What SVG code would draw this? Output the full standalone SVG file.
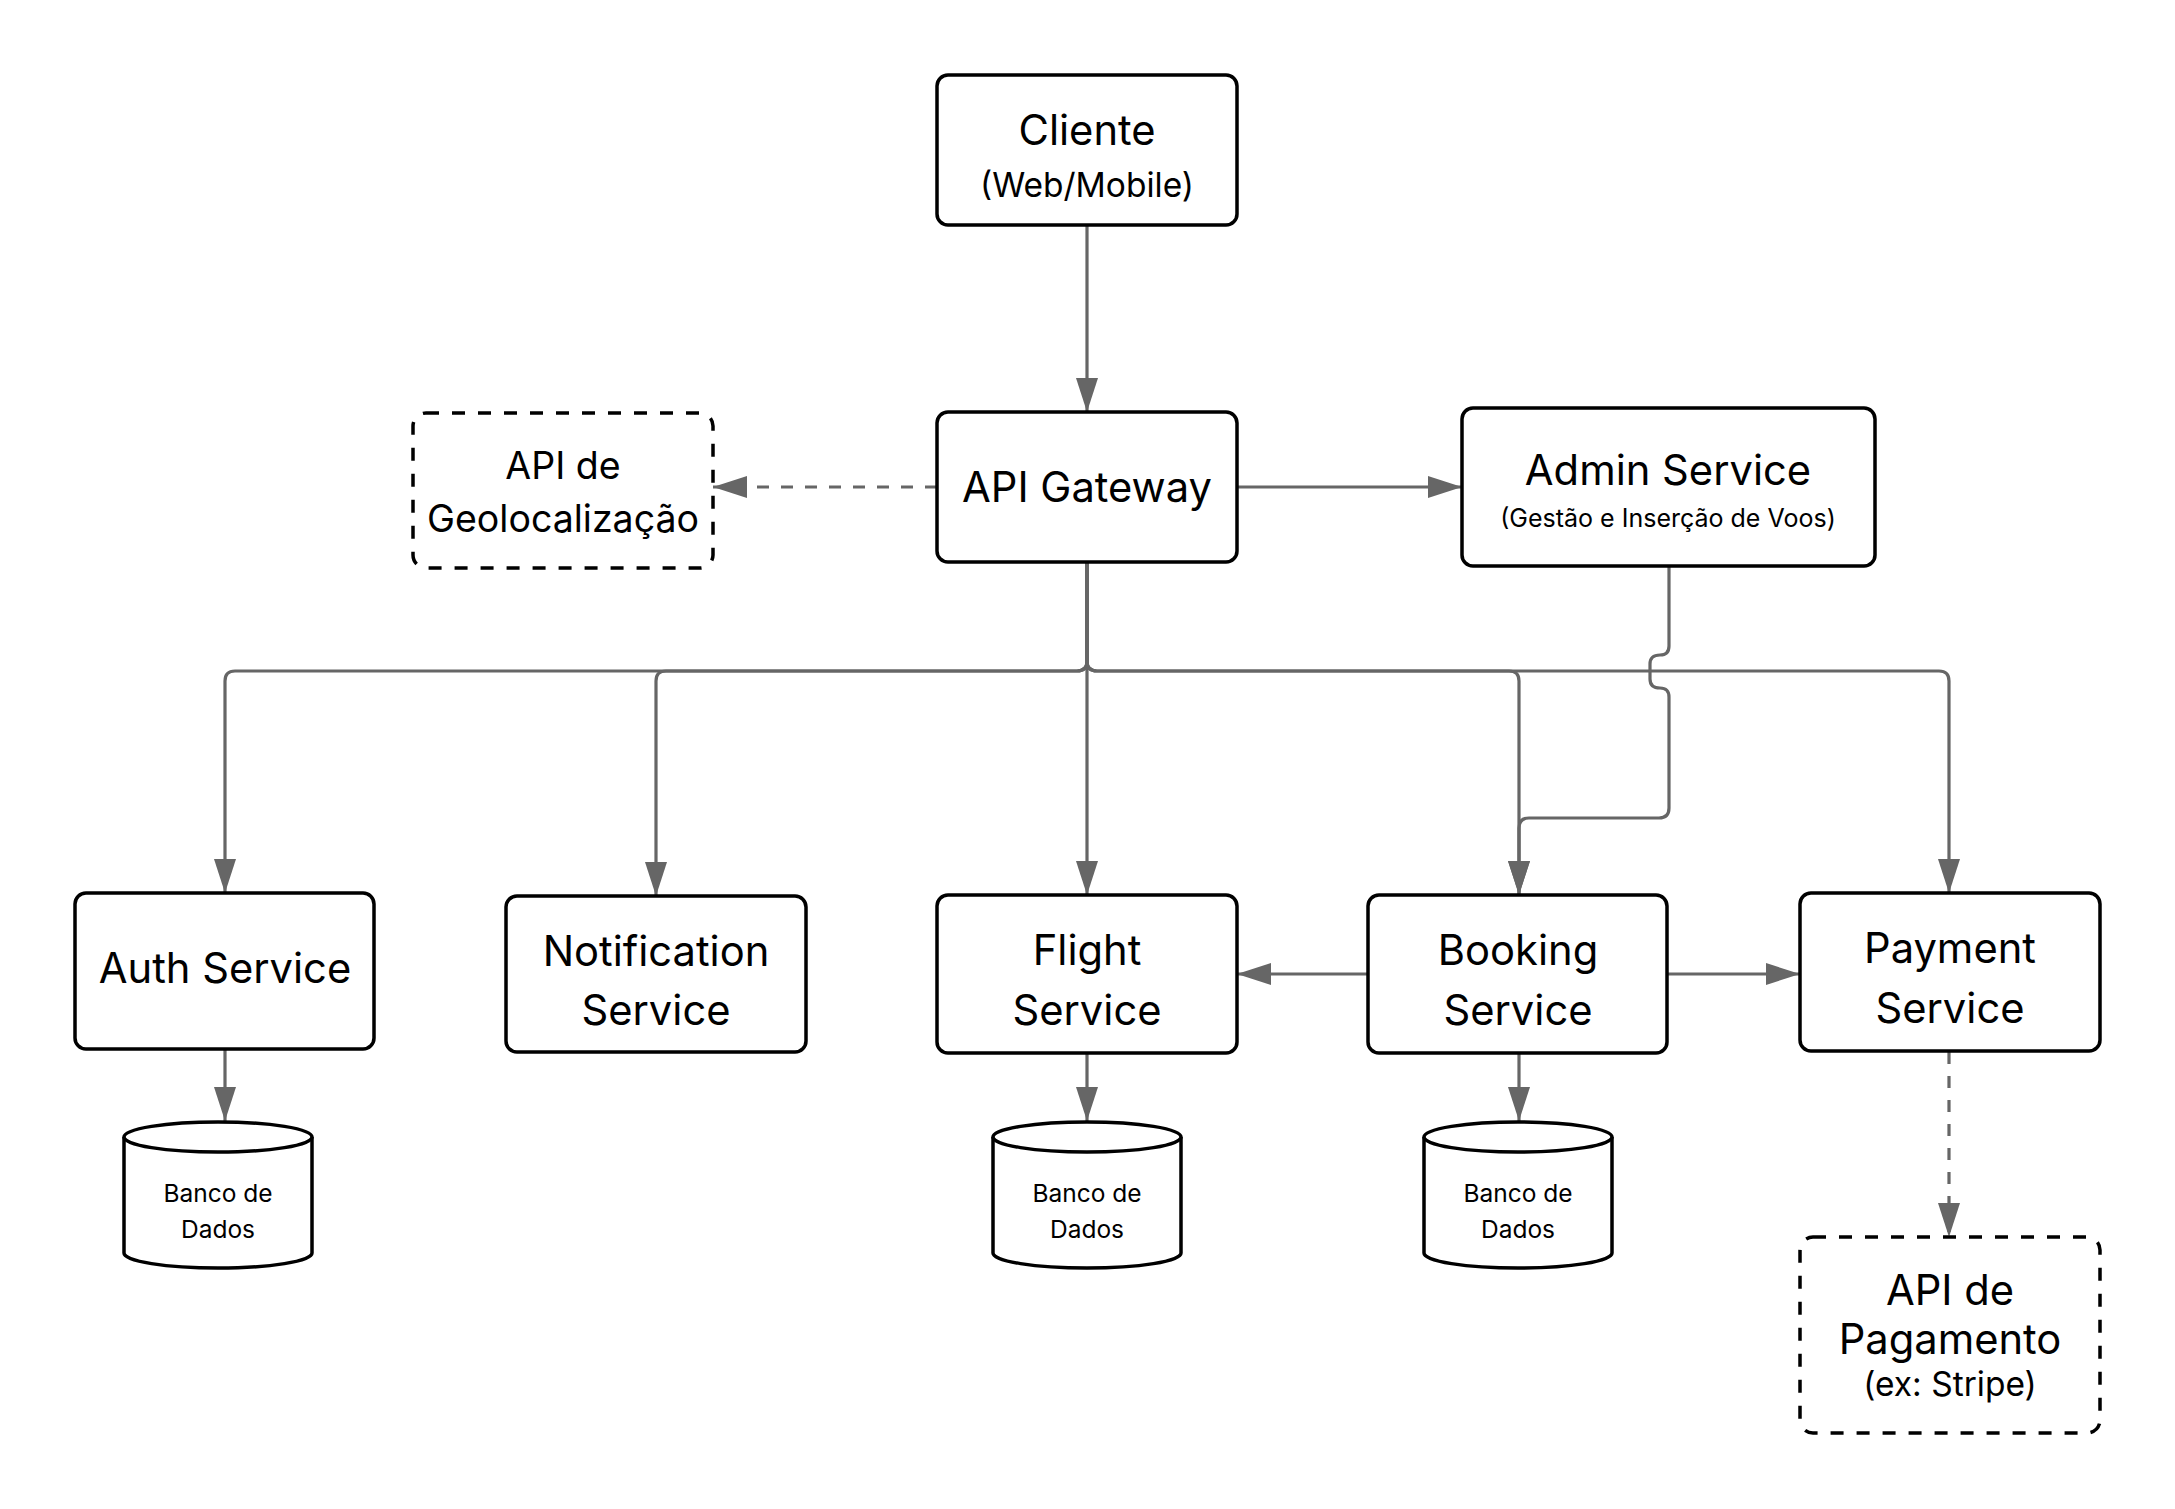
<svg xmlns="http://www.w3.org/2000/svg" width="2175" height="1509" viewBox="0 0 2175 1509">
<style>
.box{fill:#fff;stroke:#000;stroke-width:3.5}
.dbox{fill:#fff;stroke:#000;stroke-width:3.5;stroke-dasharray:13 13}
.t{font-family:Inter,"Liberation Sans",sans-serif;fill:#000;text-anchor:middle}
.big{font-size:41.7px}
.mid{font-size:33.5px}
.geo{font-size:37.5px}
.small{font-size:25px}
.db{font-size:24.5px}
.c{fill:none;stroke:#666;stroke-width:3.2}
.dash{stroke-dasharray:12 12}
</style>
<defs>
<marker id="ah" markerUnits="userSpaceOnUse" markerWidth="34" markerHeight="22" refX="34" refY="11" orient="auto">
<path d="M0,0 L34,11 L0,22 Z" fill="#666"/>
</marker>
</defs>
<rect width="2175" height="1509" fill="#fff"/>
<g id="connectors">
<path class="c" d="M1087,225 V412" marker-end="url(#ah)"/>
<path class="c dash" d="M937,487 H713" marker-end="url(#ah)"/>
<path class="c" d="M1237,487 H1462" marker-end="url(#ah)"/>
<path class="c" d="M1087,562 V661 Q1087,671 1077,671 H235 Q225,671 225,681 V893" marker-end="url(#ah)"/>
<path class="c" d="M1087,562 V661 Q1087,671 1077,671 H666 Q656,671 656,681 V896" marker-end="url(#ah)"/>
<path class="c" d="M1087,562 V895" marker-end="url(#ah)"/>
<path class="c" d="M1087,562 V661 Q1087,671 1097,671 H1509 Q1519,671 1519,681 V895" marker-end="url(#ah)"/>
<path class="c" d="M1087,562 V661 Q1087,671 1097,671 H1939 Q1949,671 1949,681 V893" marker-end="url(#ah)"/>
<path class="c" d="M1669,567 V646 Q1669,655 1660,655 Q1650,655 1650,664 V679 Q1650,688 1660,688 Q1669,688 1669,697 V808 Q1669,818 1659,818 H1529 Q1519,818 1519,828 V895" marker-end="url(#ah)"/>
<path class="c" d="M1368,974 H1237" marker-end="url(#ah)"/>
<path class="c" d="M1667,974 H1800" marker-end="url(#ah)"/>
<path class="c" d="M225,1049 V1121" marker-end="url(#ah)"/>
<path class="c" d="M1087,1053 V1121" marker-end="url(#ah)"/>
<path class="c" d="M1519,1053 V1121" marker-end="url(#ah)"/>
<path class="c dash" d="M1949,1052 V1237" marker-end="url(#ah)"/>
</g>
<g id="cliente">
<rect class="box" x="937" y="75" width="300" height="150" rx="11"/>
<text class="t big" x="1087" y="145">Cliente</text>
<text class="t mid" x="1087" y="197">(Web/Mobile)</text>
</g>
<g id="api-gateway">
<rect class="box" x="937" y="412" width="300" height="150" rx="11"/>
<text class="t big" x="1087" y="502">API Gateway</text>
</g>
<g id="api-geolocalizacao">
<rect class="dbox" x="413" y="413" width="300" height="155" rx="13"/>
<text class="t geo" x="563" y="479">API de</text>
<text class="t geo" x="563" y="532">Geolocalização</text>
</g>
<g id="admin-service">
<rect class="box" x="1462" y="408" width="413" height="158" rx="11"/>
<text class="t big" x="1668" y="485">Admin Service</text>
<text class="t small" x="1668" y="527">(Gestão e Inserção de Voos)</text>
</g>
<g id="auth-service">
<rect class="box" x="75" y="893" width="299" height="156" rx="11"/>
<text class="t big" x="225" y="983">Auth Service</text>
</g>
<g id="notification-service">
<rect class="box" x="506" y="896" width="300" height="156" rx="11"/>
<text class="t big" x="656" y="966">Notification</text>
<text class="t big" x="656" y="1025">Service</text>
</g>
<g id="flight-service">
<rect class="box" x="937" y="895" width="300" height="158" rx="11"/>
<text class="t big" x="1087" y="965">Flight</text>
<text class="t big" x="1087" y="1025">Service</text>
</g>
<g id="booking-service">
<rect class="box" x="1368" y="895" width="299" height="158" rx="11"/>
<text class="t big" x="1518" y="965">Booking</text>
<text class="t big" x="1518" y="1025">Service</text>
</g>
<g id="payment-service">
<rect class="box" x="1800" y="893" width="300" height="158" rx="11"/>
<text class="t big" x="1950" y="963">Payment</text>
<text class="t big" x="1950" y="1023">Service</text>
</g>
<g id="db-auth">
<path class="box" d="M124,1137 V1253 A94,15 0 0 0 312,1253 V1137"/>
<ellipse class="box" cx="218" cy="1137" rx="94" ry="15"/>
<text class="t db" x="218" y="1202">Banco de</text>
<text class="t db" x="218" y="1238">Dados</text>
</g>
<g id="db-flight">
<path class="box" d="M993,1137 V1253 A94,15 0 0 0 1181,1253 V1137"/>
<ellipse class="box" cx="1087" cy="1137" rx="94" ry="15"/>
<text class="t db" x="1087" y="1202">Banco de</text>
<text class="t db" x="1087" y="1238">Dados</text>
</g>
<g id="db-booking">
<path class="box" d="M1424,1137 V1253 A94,15 0 0 0 1612,1253 V1137"/>
<ellipse class="box" cx="1518" cy="1137" rx="94" ry="15"/>
<text class="t db" x="1518" y="1202">Banco de</text>
<text class="t db" x="1518" y="1238">Dados</text>
</g>
<g id="api-pagamento">
<rect class="dbox" x="1800" y="1237" width="300" height="196" rx="13"/>
<text class="t big" x="1950" y="1305">API de</text>
<text class="t big" x="1950" y="1354">Pagamento</text>
<text class="t mid" x="1950" y="1396">(ex: Stripe)</text>
</g>
</svg>
